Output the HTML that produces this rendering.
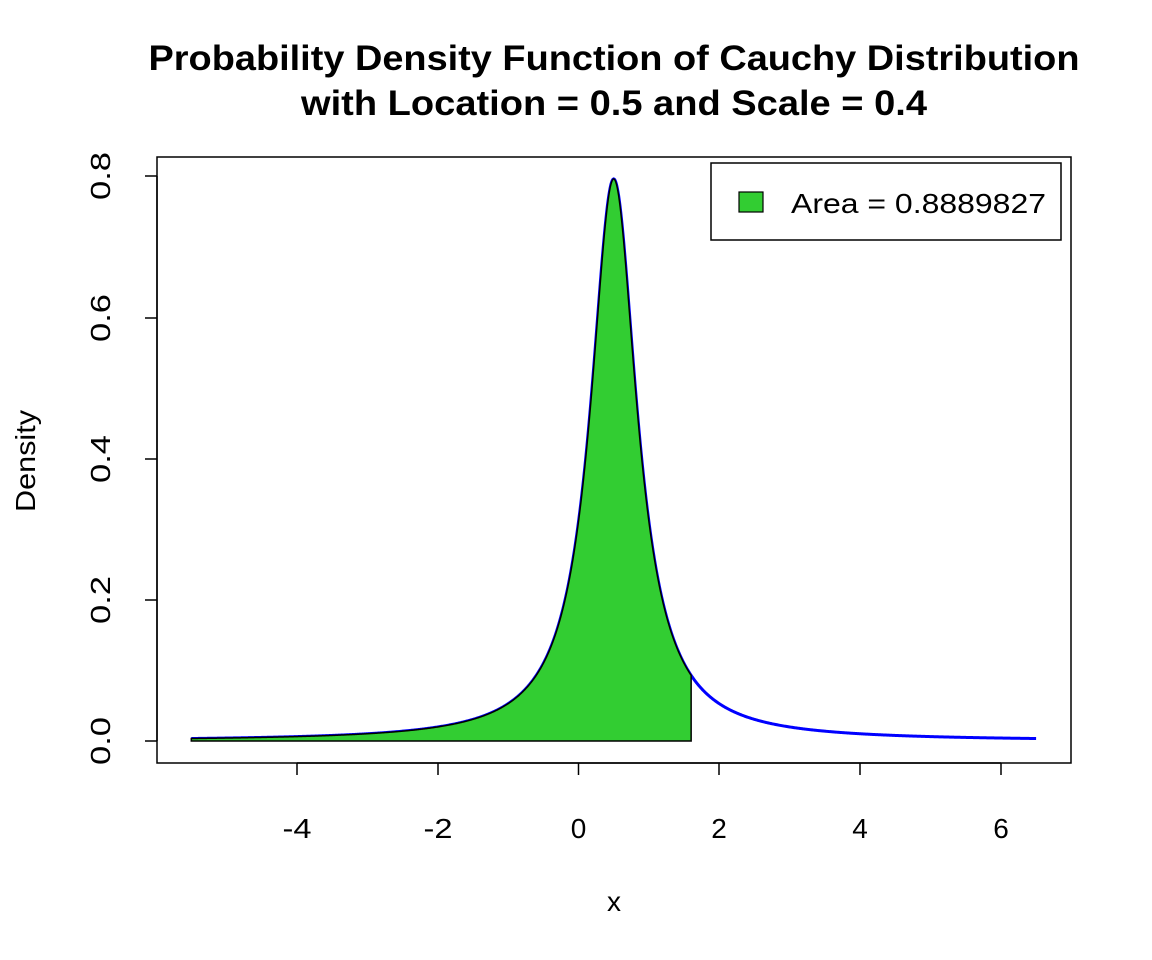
<!DOCTYPE html>
<html><head><meta charset="utf-8"><style>body{margin:0;background:#fff}svg{display:block}text{font-family:"Liberation Sans",Arial,sans-serif}</style></head>
<body>
<svg id="s" width="1152" height="960" xmlns="http://www.w3.org/2000/svg">
<text x="614" y="70" font-size="35" font-weight="bold" text-anchor="middle" textLength="931" lengthAdjust="spacingAndGlyphs">Probability Density Function of Cauchy Distribution</text>
<text x="614" y="115" font-size="35" font-weight="bold" text-anchor="middle" textLength="626" lengthAdjust="spacingAndGlyphs">with Location = 0.5 and Scale = 0.4</text>
<rect x="157" y="157" width="914" height="606" fill="none" stroke="#000" stroke-width="1.5"/>
<g stroke="#000" stroke-width="1.5">
<line x1="297" y1="763" x2="1001" y2="763"/>
<line x1="297" y1="763" x2="297" y2="775"/><line x1="438" y1="763" x2="438" y2="775"/><line x1="578.5" y1="763" x2="578.5" y2="775"/><line x1="719" y1="763" x2="719" y2="775"/><line x1="860" y1="763" x2="860" y2="775"/><line x1="1001" y1="763" x2="1001" y2="775"/>
<line x1="157" y1="176" x2="157" y2="741"/>
<line x1="145" y1="741" x2="157" y2="741"/><line x1="145" y1="600" x2="157" y2="600"/><line x1="145" y1="459" x2="157" y2="459"/><line x1="145" y1="318" x2="157" y2="318"/><line x1="145" y1="176" x2="157" y2="176"/>
</g>
<g font-size="28" text-anchor="middle">
<text x="297" y="838" textLength="29" lengthAdjust="spacingAndGlyphs">-4</text><text x="438" y="838" textLength="29" lengthAdjust="spacingAndGlyphs">-2</text><text x="578.5" y="838">0</text><text x="719" y="838">2</text><text x="860" y="838">4</text><text x="1001" y="838">6</text>
<text transform="translate(110,741) rotate(-90)" textLength="48" lengthAdjust="spacingAndGlyphs">0.0</text>
<text transform="translate(110,600) rotate(-90)" textLength="48" lengthAdjust="spacingAndGlyphs">0.2</text>
<text transform="translate(110,459) rotate(-90)" textLength="48" lengthAdjust="spacingAndGlyphs">0.4</text>
<text transform="translate(110,318) rotate(-90)" textLength="48" lengthAdjust="spacingAndGlyphs">0.6</text>
<text transform="translate(110,176) rotate(-90)" textLength="48" lengthAdjust="spacingAndGlyphs">0.8</text>
<text x="614" y="911">x</text>
<text transform="translate(35,461) rotate(-90)" textLength="102" lengthAdjust="spacingAndGlyphs">Density</text>
</g>
<path id="curve" fill="none" stroke="#0000FF" stroke-width="3"/>
<path id="fill" fill="#32CD32" stroke="#000" stroke-width="1.5"/>
<rect x="711" y="163" width="350" height="77" fill="#fff" stroke="#000" stroke-width="1.5"/>
<rect x="739" y="192" width="24" height="20" fill="#32CD32" stroke="#000" stroke-width="1.2"/>
<text x="791" y="213" font-size="28" textLength="255" lengthAdjust="spacingAndGlyphs">Area = 0.8889827</text>
</svg>
<script>
function px(x){return 578.5+x*70.4}
function py(y){return 741-y*706.25}
function f(x){var z=(x-0.5)/0.4;return 1/(Math.PI*0.4*(1+z*z))}
var c="",fl="M"+px(-5.5)+","+py(0);
for(var i=0;i<=1200;i++){var x=-5.5+i*0.01;var p=px(x).toFixed(2)+","+py(f(x)).toFixed(2);c+=(i?"L":"M")+p;if(x<=1.6001)fl+="L"+p;}
fl+="L"+px(1.6)+","+py(0)+"Z";
document.getElementById("curve").setAttribute("d",c);
document.getElementById("fill").setAttribute("d",fl);
</script>
</body></html>
